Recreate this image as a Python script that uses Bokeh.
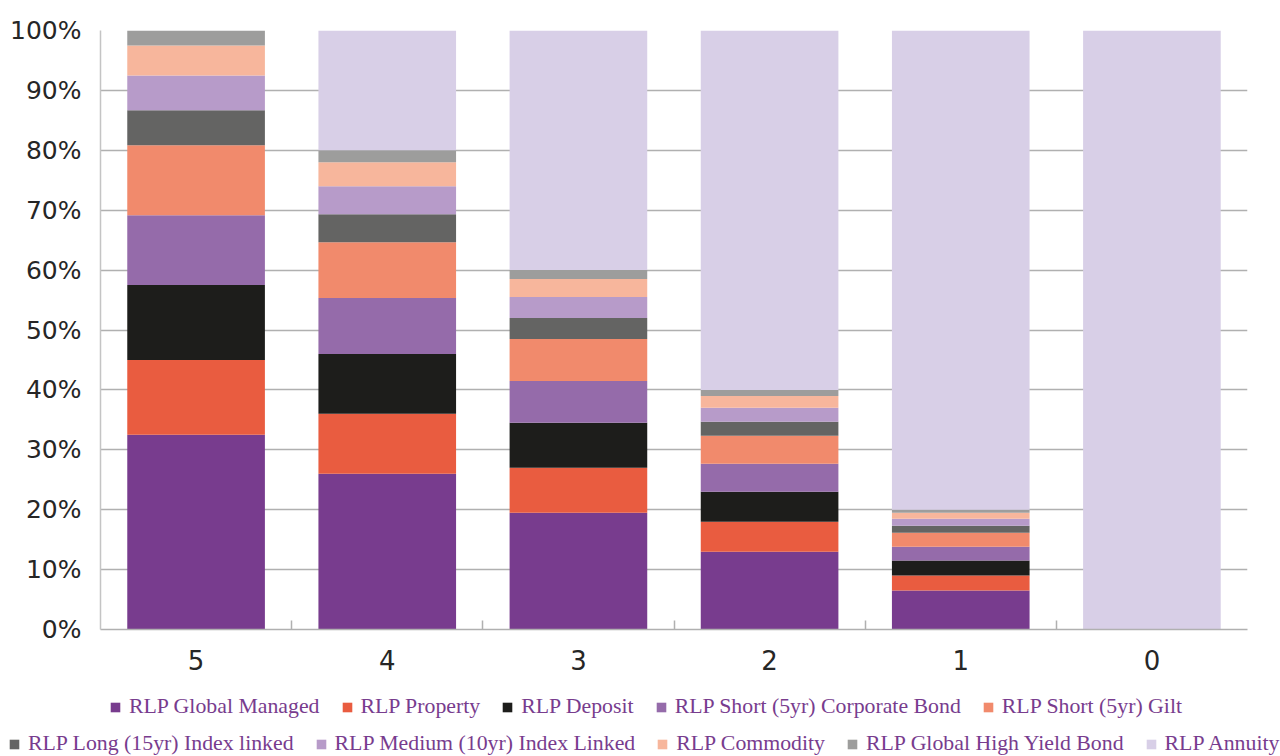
from bokeh.plotting import figure
from bokeh.layouts import column
from bokeh.models import (ColumnDataSource, Range1d, LinearAxis,
                          FixedTicker, PrintfTickFormatter, Legend, LegendItem)
from bokeh.embed import file_html
from bokeh.resources import INLINE

categories = ["5", "4", "3", "2", "1", "0"]
global_managed = [32.5, 26.0, 19.5, 13.0, 6.5, 0.0]
property_ = [12.5, 10.0, 7.5, 5.0, 2.5, 0.0]
deposit = [12.5, 10.0, 7.5, 5.0, 2.5, 0.0]
short_corp_bond = [11.67, 9.33, 7.0, 4.67, 2.33, 0.0]
short_gilt = [11.67, 9.33, 7.0, 4.67, 2.33, 0.0]
long_index_linked = [5.83, 4.67, 3.5, 2.33, 1.17, 0.0]
medium_index_linked = [5.83, 4.67, 3.5, 2.33, 1.17, 0.0]
commodity = [5.0, 4.0, 3.0, 2.0, 1.0, 0.0]
global_high_yield = [2.5, 2.0, 1.5, 1.0, 0.5, 0.0]
annuity = [0.0, 20.0, 40.0, 60.0, 80.0, 100.0]

series_names = ["RLP Global Managed", "RLP Property", "RLP Deposit",
                "RLP Short (5yr) Corporate Bond", "RLP Short (5yr) Gilt",
                "RLP Long (15yr) Index linked", "RLP Medium (10yr) Index Linked",
                "RLP Commodity", "RLP Global High Yield Bond", "RLP Annuity"]
series_values = [global_managed, property_, deposit, short_corp_bond, short_gilt,
                 long_index_linked, medium_index_linked, commodity, global_high_yield, annuity]
colors = ["#783C8E", "#E95C40", "#1D1D1B", "#956BAA", "#F18A6C",
          "#646463", "#B79BC9", "#F7B69C", "#9D9D9C", "#D8CFE7"]

n = len(categories)
centers = [i + 0.5 for i in range(n)]
keys = [f"s{i}" for i in range(len(series_names))]
data = {"x": centers, "cat": categories}
for k, v in zip(keys, series_values):
    data[k] = v
source = ColumnDataSource(data)

p = figure(x_range=Range1d(0, n), y_range=Range1d(0, 100),
           frame_width=1147, frame_height=599,
           min_border_left=100, min_border_right=33, min_border_top=30, min_border_bottom=61,
           output_backend="svg", toolbar_location=None, x_axis_location=None,
           y_axis_location=None)
p.frame_align = False
p.outline_line_color = None
p.background_fill_color = "white"
p.border_fill_color = "white"

renderers = p.vbar_stack(keys, x="x", width=0.72, color=colors, line_color=None, source=source)

# y axis
yaxis = LinearAxis(ticker=FixedTicker(ticks=list(range(0, 101, 10))),
                   formatter=PrintfTickFormatter(format="%d%%"))
yaxis.axis_line_color = "#c4c4c4"
yaxis.axis_line_width = 1.5
yaxis.major_tick_line_color = None
yaxis.minor_tick_line_color = None
yaxis.major_label_text_font = "DejaVu Sans"
yaxis.major_label_text_font_size = "25px"
yaxis.major_label_text_color = "#262626"
yaxis.major_label_standoff = 13
p.add_layout(yaxis, "left")

p.ygrid.ticker = FixedTicker(ticks=list(range(0, 101, 10)))
p.ygrid.grid_line_color = "#b0b0b0"
p.ygrid.grid_line_width = 1.5
p.xgrid.grid_line_color = None

# x axis: labels at bar centres, small ticks at category boundaries
xaxis = LinearAxis(ticker=FixedTicker(ticks=centers, minor_ticks=list(range(1, n))))
xaxis.major_label_overrides = {c: lab for c, lab in zip(centers, categories)}
xaxis.major_tick_line_color = None
xaxis.minor_tick_in = 9
xaxis.minor_tick_out = 0
xaxis.minor_tick_line_color = "#b0b0b0"
xaxis.minor_tick_line_width = 1.5
xaxis.axis_line_color = "#b0b0b0"
xaxis.axis_line_width = 1.5
xaxis.major_label_text_font = "DejaVu Sans"
xaxis.major_label_text_font_size = "26px"
xaxis.major_label_text_color = "#262626"
xaxis.major_label_standoff = 14
p.add_layout(xaxis, "below")

# legend strip below the chart (frame covers the whole strip)
leg = figure(width=1280, height=66, x_range=Range1d(0, 1), y_range=Range1d(0, 1),
             min_border_left=0, min_border_right=0, min_border_top=0, min_border_bottom=0,
             output_backend="svg", toolbar_location=None,
             x_axis_location=None, y_axis_location=None)
leg.frame_align = False
leg.outline_line_color = None
leg.border_fill_color = "white"
leg.background_fill_color = "white"
leg.xgrid.grid_line_color = None
leg.ygrid.grid_line_color = None
# zero-height proxy glyphs that only give the legend its swatches
proxies = [leg.vbar(x=[0.5], top=[0], bottom=[0], width=0.1, color=c, line_color=None)
           for c in colors]

def make_legend(idx, loc):
    items = [LegendItem(label=series_names[i], renderers=[proxies[i]]) for i in idx]
    lg = Legend(items=items, orientation="horizontal", location=loc)
    lg.label_text_font = "Liberation Serif"
    lg.label_text_font_size = "21.8px"
    lg.label_text_color = "#783C8E"
    lg.glyph_width = 12
    lg.glyph_height = 12
    lg.label_standoff = 8
    lg.spacing = 21
    lg.padding = 0
    lg.margin = 0
    lg.border_line_color = None
    lg.background_fill_alpha = 0
    return lg

leg.add_layout(make_legend([0, 1, 2, 3, 4], (109, 37)))
leg.add_layout(make_legend([5, 6, 7, 8, 9], (8, 0)))

layout = column(p, leg, spacing=0)
open("out.html", "w").write(file_html(layout, INLINE))
